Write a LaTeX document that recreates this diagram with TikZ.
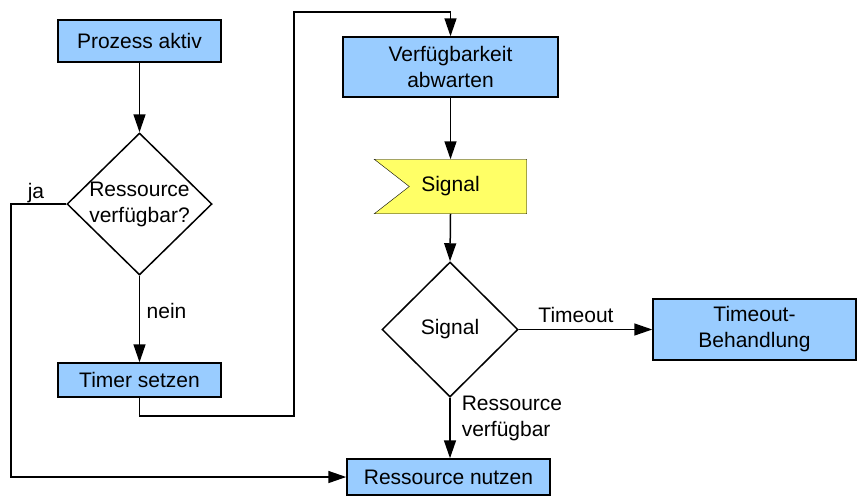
\documentclass[tikz,border=0pt]{standalone}
\usepackage{fontspec}
\setmainfont{Liberation Sans}
\usetikzlibrary{arrows.meta,shapes.geometric,backgrounds}
\definecolor{boxblue}{HTML}{99CCFF}
\definecolor{sigyellow}{HTML}{FFFF66}
\begin{document}
\begin{tikzpicture}[x=1pt,y=-1pt,
  font=\fontsize{21}{26}\selectfont,
  line width=1.5pt,
  proc/.style={draw, fill=boxblue, rectangle, inner sep=0pt, align=center},
  dec/.style={draw, diamond, fill=white, inner sep=0pt},
  arr/.style={-{Triangle[length=18pt,width=12pt]}},
  lbl/.style={inner sep=0pt}]
\useasboundingbox (0,0) rectangle (858,496);

% nodes
\node[proc, minimum width=163pt, minimum height=42pt] (pa) at (139.5,41) {Prozess aktiv};
\node[dec, minimum width=145pt, minimum height=142pt] (d1) at (139.5,204) {};
\node[align=center, lbl] (d1t) at (d1) {Ressource\\verfügbar?};
\node[proc, minimum width=163pt, minimum height=34pt] (ts) at (139.5,380) {Timer setzen};
\node[proc, minimum width=215pt, minimum height=60pt] (va) at (450.5,67) {Verfügbarkeit\\abwarten};
\node[minimum width=151pt, minimum height=53pt, inner sep=0pt] (sig) at (450.5,186.5) {Signal};
\begin{scope}[on background layer]
  \fill[white] (0,0) rectangle (858,496);
  \draw[fill=sigyellow] (sig.north west) -- (sig.north east) -- (sig.south east)
    -- (sig.south west) -- ([xshift=35pt]sig.west) -- cycle;
\end{scope}
\node[dec, minimum width=136pt, minimum height=135pt] (d2) at (450,329.5) {};
\node[lbl] (d2t) at (d2) {Signal};
\node[proc, minimum width=203pt, minimum height=61pt] (tb) at (754.5,329.5) {Timeout-\\Behandlung};
\node[proc, minimum width=203pt, minimum height=36pt] (rn) at (448.5,477) {Ressource nutzen};

% helper coordinates
\coordinate (jaC) at (11,204);
\coordinate (tsC) at (139.5,416);
\coordinate (topC) at (294,12);

% connectors
\draw[arr] (pa.south) -- (d1.north);
\draw[arr] (d1.west) -- (jaC) |- (rn.west);
\draw[arr] (d1.south) -- (ts.north);
\draw[arr] (ts.south) -- (tsC) -| (topC) -| (va.north);
\draw[arr] (va.south) -- (sig.north);
\draw[arr] (sig.south) -- (d2.north);
\draw[arr] (d2.east) -- (tb.west);
\draw[arr] (d2.south) -- (d2.south |- rn.north);

% labels
\node[lbl, anchor=base] (lja) at (36,198) {ja};
\node[lbl, anchor=base] (lnein) at (166.5,318) {nein};
\node[lbl, anchor=base] (lto) at (576,322.5) {Timeout};
\node[lbl, anchor=north west, align=left] (lrv) at (461,395) {Ressource\\verfügbar};
\end{tikzpicture}
\end{document}
